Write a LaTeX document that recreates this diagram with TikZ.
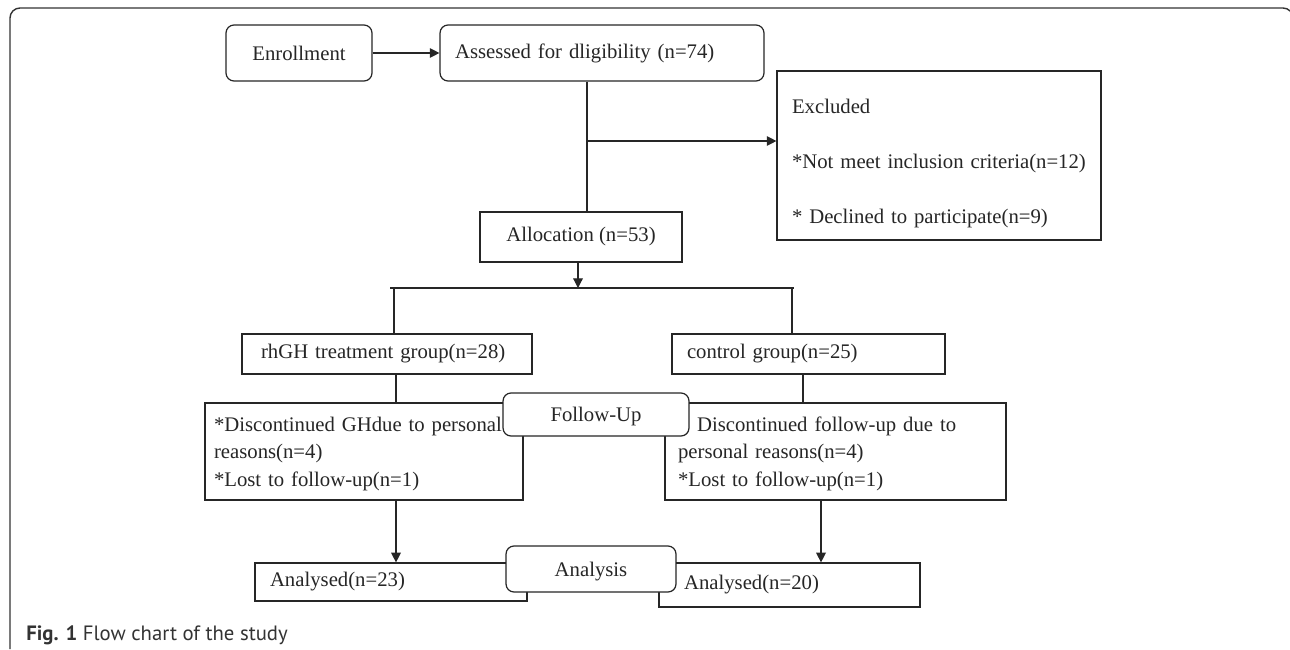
\documentclass[tikz,border=0pt]{standalone}
\usepackage{fontspec}
\setmainfont{Liberation Serif}
\newfontfamily\capfont{PT Sans}
\usetikzlibrary{arrows.meta,positioning,calc}
\tikzset{
    line color/.style={black!85},
    frame/.style={black!80,line width=0.8pt,rounded corners=0.2cm},
    box/.style={draw,line color,line width=0.7pt,fill=white,inner sep=0pt,align=center},
    roundbox/.style={box,rounded corners=0.16cm},
    leftbox/.style={box,align=left},
    conn/.style={line color,line width=0.7pt},
    arr/.style={conn,-{Triangle[length=5.5pt,width=5.5pt]}},
}
\tikzstyle{every node}=[font=\fontsize{11.8}{15.4}\selectfont]

\begin{document}
\begin{tikzpicture}[x=0.02cm,y=-0.02cm]
    \useasboundingbox (0,0) rectangle (1290,649);
    \draw[frame] (10,649) |- (1293,8) -- (1293,40);

    % top row
    \node[roundbox, minimum width=2.92cm, minimum height=1.12cm] (enroll) at (299,53) {Enrollment};
    \node[roundbox, leftbox, text width=5.88cm, inner xsep=0.3cm, minimum height=1.12cm] (assess) at (602,53) {Assessed for dligibility (n=74)};
    \node[leftbox, text width=5.88cm, inner xsep=0.3cm, minimum height=3.38cm] (excl) at (939,155.5)
        {\rule{0pt}{17pt}Excluded\\[15.9pt]{*}Not meet inclusion criteria(n=12)\\[15.9pt]{*} Declined to participate(n=9)};
    \node[box, minimum width=4.04cm, minimum height=1cm] (alloc) at (581,237) {Allocation (n=53)};

    % groups
    \node[leftbox, text width=5.04cm, inner xsep=0.38cm, minimum height=0.8cm] (rhgh) at (387,354) {rhGH treatment group(n=28)};
    \node[leftbox, text width=4.86cm, inner xsep=0.3cm, minimum height=0.8cm] (ctrl) at (808.5,354) {control group(n=25)};

    \node[leftbox, text width=6cm, inner xsep=0.18cm, minimum height=1.94cm] (disc1) at (364,451.5)
        {\rule{0pt}{11pt}{*}Discontinued GHdue to personal\\reasons(n=4)\\{*}Lost to follow-up(n=1)};
    \node[leftbox, text width=6.3cm, inner xsep=0.26cm, minimum height=1.94cm] (disc2) at (835.5,451.5)
        {\rule{0pt}{11pt}\hspace*{0.38cm}Discontinued follow-up due to\\personal reasons(n=4)\\{*}Lost to follow-up(n=1)};
    \node[roundbox, minimum width=3.72cm, minimum height=0.86cm, text depth=0pt] (fu) at (596,414.5) {Follow-Up};

    \node[leftbox, text width=4.84cm, inner xsep=0.3cm, minimum height=0.76cm] (an1) at (391,582) {Analysed(n=23)};
    \node[leftbox, text width=4.22cm, inner xsep=0.5cm, minimum height=0.88cm] (an2) at (789.5,585) {Analysed(n=20)};
    \node[roundbox, minimum width=3.4cm, minimum height=0.92cm, text depth=0pt] (anl) at (591,569) {Analysis};

    \node[anchor=base west, inner sep=0pt, text=black!80, font=\capfont\fontsize{11.8}{13}\selectfont] (caption) at (26,640)
        {\textbf{Fig. 1} Flow chart of the study};

    % lanes for the connectors
    \coordinate (split) at (587,141);
    \coordinate (drop) at (578,288);
    \coordinate (barL) at (394,288);
    \coordinate (barR) at (792,288);
    \coordinate (laneL) at (396,0);
    \coordinate (laneR) at (803,0);
    \coordinate (laneA) at (821,0);

    \draw[arr] (enroll) -- (assess);
    \draw[conn] (assess.south -| split) -- (alloc.north -| split);
    \draw[arr] (split) -- (split -| excl.west);
    \draw[arr] (alloc.south -| drop) -- (drop);
    \draw[conn] ([xshift=-0.08cm]barL) -- ([xshift=0.04cm]barR);
    \draw[conn] (barL) -- (barL |- rhgh.north);
    \draw[conn] (barR) -- (barR |- ctrl.north);
    \draw[conn] (rhgh.south -| laneL) -- (disc1.north -| laneL);
    \draw[conn] (ctrl.south -| laneR) -- (disc2.north -| laneR);
    \draw[arr] (disc1.south -| laneL) -- (an1.north -| laneL);
    \draw[arr] (disc2.south -| laneA) -- (an2.north -| laneA);
\end{tikzpicture}
\end{document}
